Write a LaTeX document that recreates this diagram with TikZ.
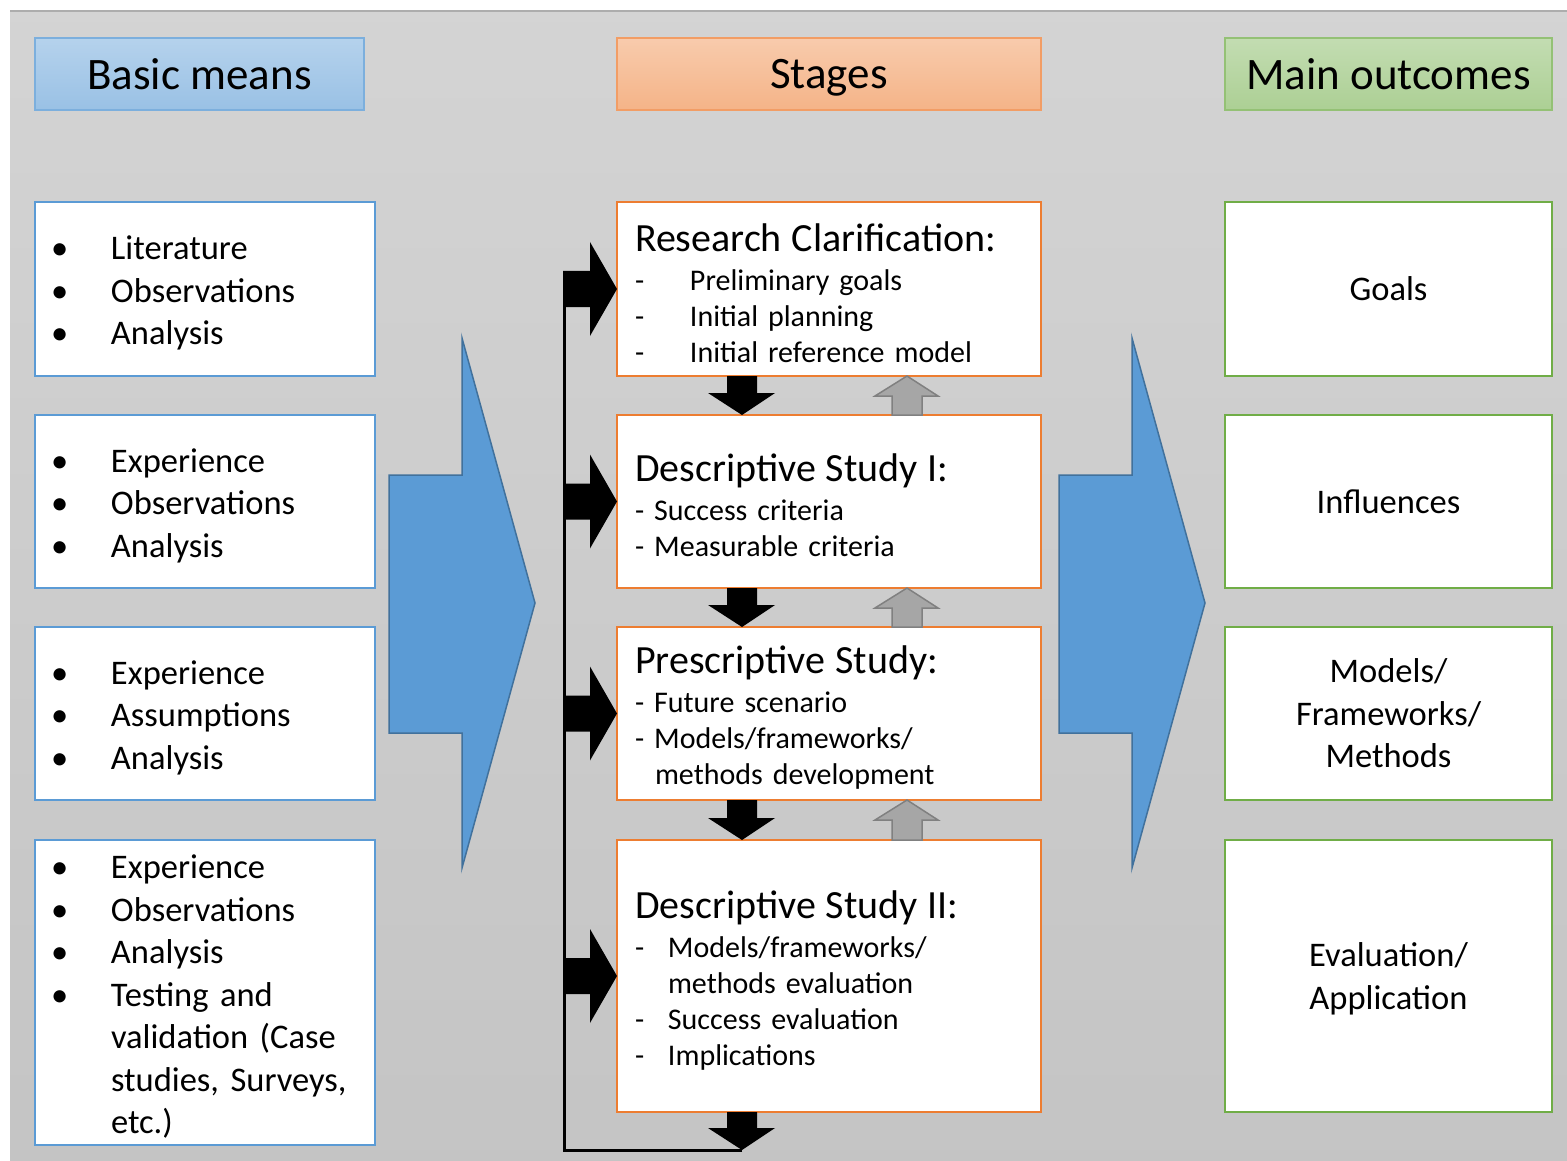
\documentclass[tikz,border=0pt]{standalone}
\usepackage{fontspec}
\setmainfont{Carlito}
\usetikzlibrary{calc}

\definecolor{meansblue}{HTML}{5B9BD5}
\definecolor{stageorange}{HTML}{ED7D31}
\definecolor{outgreen}{HTML}{70AD47}
\definecolor{arrowedge}{HTML}{41719C}

\newcommand{\meansbullet}{\makebox[60pt][l]{\textbullet}}
\newcommand{\stagedash}[1]{\makebox[#1][l]{-}}
\newcommand{\stagetitle}[1]{{\fontsize{40}{48}\selectfont #1}\\[3pt]}

\begin{document}
\begin{tikzpicture}[x=1pt,y=-1pt]
    \tikzstyle{box}=[draw, line width=2.5pt, fill=white, outer sep=0pt, inner sep=0pt]
    \tikzstyle{means}=[box, draw=meansblue, minimum width=340pt, text width=308pt, text height=32pt, align=left, font=\fontsize{34.5}{42.5}\selectfont]
    \tikzstyle{stage}=[box, draw=stageorange, minimum width=424pt, text width=388pt, text height=36pt, align=left, font=\fontsize{30}{36}\selectfont]
    \tikzstyle{outcome}=[box, draw=outgreen, minimum width=327pt, align=center, text depth=0pt, font=\fontsize{34.5}{42.5}\selectfont]
    \tikzstyle{head}=[draw, line width=1.2pt, outer sep=0pt, minimum height=72pt, text depth=0pt, font=\fontsize{45}{54}\selectfont]
    \tikzstyle{bigarrow}=[fill=meansblue, draw=arrowedge, line width=1.5pt]
    \tikzstyle{uparrow}=[fill=black!35, draw=black!50, line width=1.5pt]

    \useasboundingbox (0,0) rectangle (1567,1161);
    \fill[white] (0,0) rectangle (1567,1161);
    \shade[top color=black!17, bottom color=black!23] (10,11) rectangle (1567,1161);
    \draw[black!32, line width=1.5pt] (10,11) -- (1567,11);

    \node[head, draw=meansblue!80, top color=meansblue!45, bottom color=meansblue!62, minimum width=329pt] (h1) at (199.5,74) {Basic means};
    \node[head, draw=stageorange!75, top color=stageorange!40, bottom color=stageorange!58, minimum width=424pt] (h2) at (829,74) {Stages};
    \node[head, draw=outgreen!75, top color=outgreen!42, bottom color=outgreen!58, minimum width=327pt] (h3) at (1388.5,74) {Main outcomes};

    \node[means, minimum height=174pt] (b1) at (205,289) {\meansbullet Literature\\ \meansbullet Observations\\ \meansbullet Analysis};
    \node[means, minimum height=173pt] (b2) at (205,501.5) {\meansbullet Experience\\ \meansbullet Observations\\ \meansbullet Analysis};
    \node[means, minimum height=173pt] (b3) at (205,713.5) {\meansbullet Experience\\ \meansbullet Assumptions\\ \meansbullet Analysis};
    \node[means, minimum height=305pt] (b4) at (205,992.5) {\meansbullet Experience\\ \meansbullet Observations\\ \meansbullet Analysis\\ \meansbullet Testing and\\ \hspace*{60pt}validation (Case\\ \hspace*{60pt}studies, Surveys,\\ \hspace*{60pt}etc.)};

    \node[stage, minimum height=174pt] (s1) at (829,289) {\stagetitle{Research Clarification:}\stagedash{55pt}Preliminary goals\\ \stagedash{55pt}Initial planning\\ \stagedash{55pt}Initial reference model};
    \node[stage, minimum height=173pt] (s2) at (829,501.5) {\stagetitle{Descriptive Study I:}- Success criteria\\ - Measurable criteria};
    \node[stage, minimum height=173pt] (s3) at (829,713.5) {\stagetitle{Prescriptive Study:}- Future scenario\\ - Models/frameworks/\\ \hspace*{20pt}methods development};
    \node[stage, minimum height=272pt] (s4) at (829,976) {\stagetitle{Descriptive Study II:}\stagedash{33pt}Models/frameworks/\\ \hspace*{33pt}methods evaluation\\ \stagedash{33pt}Success evaluation\\ \stagedash{33pt}Implications};

    \node[outcome, minimum height=174pt] (o1) at (1388.5,289) {Goals};
    \node[outcome, minimum height=173pt] (o2) at (1388.5,501.5) {Influences};
    \node[outcome, minimum height=173pt] (o3) at (1388.5,713.5) {Models/\\Frameworks/\\Methods};
    \node[outcome, minimum height=272pt] (o4) at (1388.5,976) {Evaluation/\\Application};

    \draw[bigarrow] (389,475) -- (462,475) -- (462,338) -- (535,603) -- (462,868) -- (462,733) -- (389,733) -- cycle;
    \draw[bigarrow] (1059,475) -- (1132,475) -- (1132,338) -- (1205,603) -- (1132,868) -- (1132,733) -- (1059,733) -- cycle;

    \foreach \s in {s1,s2,s3,s4}
        \fill ($(\s.west)+(-54,-18)$) -- ($(\s.west)+(-27,-18)$) -- ($(\s.west)+(-27,-47)$) -- (\s.west) -- ($(\s.west)+(-27,47)$) -- ($(\s.west)+(-27,18)$) -- ($(\s.west)+(-54,18)$) -- cycle;

    \foreach \a/\b in {s1/s2,s2/s3,s3/s4}{
        \fill ($(\a.south)+(-102,0)$) -- ($(\b.north)+(-102,-22)$) -- ($(\b.north)+(-121,-22)$) -- ($(\b.north)+(-87,0)$) -- ($(\b.north)+(-54,-22)$) -- ($(\b.north)+(-72,-22)$) -- ($(\a.south)+(-72,0)$) -- cycle;
        \draw[uparrow] ($(\b.north)+(63,0)$) -- ($(\a.south)+(63,20)$) -- ($(\a.south)+(46,20)$) -- ($(\a.south)+(78,0)$) -- ($(\a.south)+(109,20)$) -- ($(\a.south)+(93,20)$) -- ($(\b.north)+(93,0)$) -- cycle;
    }

    \coordinate (fb) at ($(s4.south)+(-87,38)$);
    \coordinate (top) at ($(s1.west)+(-52.5,-18)$);
    \fill ($(s4.south)+(-102,0)$) -- ($(fb)+(-15,-22)$) -- ($(fb)+(-34,-22)$) -- (fb) -- ($(fb)+(33,-22)$) -- ($(fb)+(15,-22)$) -- ($(s4.south)+(-72,0)$) -- cycle;
    \draw[line width=3pt] (fb) -| (top);
\end{tikzpicture}
\end{document}
